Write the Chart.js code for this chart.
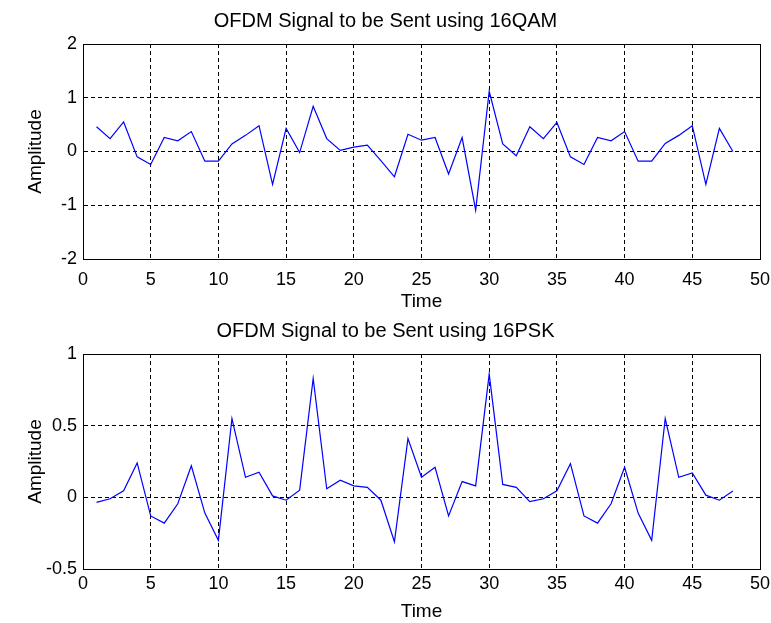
<!DOCTYPE html>
<html>
<head>
<meta charset="utf-8">
<title>OFDM Signal</title>
<script src="https://cdn.jsdelivr.net/npm/chart.js@4.4.1/dist/chart.umd.min.js"></script>
<style>
  body { margin: 0; background: #fff; }
  .plot { position: absolute; left: 0; width: 771px; height: 311px; }
</style>
</head>
<body>
<div class="plot" style="top:0"><canvas id="qamChart" width="771" height="311"></canvas></div>
<div class="plot" style="top:310px"><canvas id="pskChart" width="771" height="311"></canvas></div>
<script>
// sample index (time) for both signals
const timeIdx = [1, 2, 3, 4, 5, 6, 7, 8, 9, 10, 11, 12, 13, 14, 15, 16,
    17, 18, 19, 20, 21, 22, 23, 24, 25, 26, 27, 28, 29, 30, 31, 32,
    33, 34, 35, 36, 37, 38, 39, 40, 41, 42, 43, 44, 45, 46, 47, 48];

// real part of the OFDM symbol with cyclic prefix, 16QAM
const qamAmp = [0.46, 0.24, 0.55, -0.10, -0.24, 0.26, 0.20, 0.37, -0.18, -0.18, 0.14, 0.30, 0.48, -0.61, 0.43, -0.02,
    0.84, 0.24, 0.02, 0.08, 0.12, -0.17, -0.47, 0.32, 0.21, 0.26, -0.42, 0.26, -1.09, 1.12, 0.14, -0.08,
    0.46, 0.24, 0.54, -0.10, -0.24, 0.26, 0.20, 0.37, -0.18, -0.18, 0.15, 0.30, 0.48, -0.61, 0.43, 0.00];

// same thing for 16PSK
const pskAmp = [-0.035, -0.01, 0.045, 0.24, -0.13, -0.18, -0.045, 0.22, -0.11, -0.30, 0.55, 0.14, 0.175, 0.01, -0.02, 0.05,
    0.83, 0.06, 0.12, 0.08, 0.07, -0.02, -0.31, 0.41, 0.14, 0.21, -0.13, 0.11, 0.08, 0.86, 0.09, 0.07,
    -0.03, -0.01, 0.045, 0.235, -0.13, -0.18, -0.045, 0.21, -0.11, -0.30, 0.55, 0.14, 0.17, 0.015, -0.02, 0.045];

const timeTicks = [0, 5, 10, 15, 20, 25, 30, 35, 40, 45, 50];
const qamTicks = [-2, -1, 0, 1, 2];
const pskTicks = [-0.5, 0, 0.5, 1];

const FONT = "'Liberation Sans', Arial, sans-serif";

// matlab style closed box around the axes
const boxPlugin = {
    id: 'axesBox',
    afterDraw(chart) {
        const { ctx, chartArea: a } = chart;
        ctx.save();
        ctx.strokeStyle = '#000';
        ctx.lineWidth = 1;
        ctx.strokeRect(Math.round(a.left) + 0.5, Math.round(a.top) + 0.5,
            Math.round(a.right - a.left), Math.round(a.bottom - a.top));
        ctx.restore();
    }
};

function makePlot(canvasId, title, values, yTicks, xPad) {
    const ctx = document.getElementById(canvasId).getContext('2d');
    return new Chart(ctx, {
        type: 'line',
        data: {
            datasets: [{
                data: timeIdx.map((t, i) => ({ x: t, y: values[i] })),
                borderColor: '#0000ff',
                borderWidth: 1.2,
                pointRadius: 0,
                tension: 0,
                fill: false
            }]
        },
        options: {
            responsive: false,
            animation: false,
            layout: { padding: { left: 0, right: 0, top: 0, bottom: 0 } },
            plugins: {
                legend: { display: false },
                tooltip: { enabled: false },
                title: {
                    display: true,
                    text: title,
                    color: '#000',
                    font: { family: FONT, size: 20, weight: 'normal' },
                    padding: { top: 9, bottom: 11 }
                }
            },
            scales: {
                x: {
                    type: 'linear',
                    min: timeTicks[0],
                    max: timeTicks[timeTicks.length - 1],
                    afterBuildTicks: s => { s.ticks = timeTicks.map(v => ({ value: v })); },
                    // fixed axis band so both plots line up
                    afterFit: s => { s.height = 52; s.paddingLeft = 0; s.paddingRight = 11; },
                    grid: { color: '#000', lineWidth: 1, drawTicks: false },
                    border: { display: true, color: '#000', dash: [4, 3] },
                    ticks: { color: '#000', font: { family: FONT, size: 18 }, padding: xPad, maxRotation: 0 },
                    title: {
                        display: true, text: 'Time', color: '#000',
                        font: { family: FONT, size: 19, lineHeight: 1 },
                        padding: { top: 0, bottom: 0 }
                    }
                },
                y: {
                    min: yTicks[0],
                    max: yTicks[yTicks.length - 1],
                    afterBuildTicks: s => { s.ticks = yTicks.map(v => ({ value: v })); },
                    afterFit: s => { s.width = 83; },
                    grid: { color: '#000', lineWidth: 1, drawTicks: false },
                    border: { display: true, color: '#000', dash: [4, 3] },
                    ticks: {
                        color: '#000', font: { family: FONT, size: 18 }, padding: 6,
                        callback: v => String(v)
                    },
                    title: {
                        display: true, text: 'Amplitude', color: '#000',
                        font: { family: FONT, size: 19, lineHeight: 1.2 },
                        padding: { top: 24, bottom: 0 }
                    }
                }
            }
        },
        plugins: [boxPlugin]
    });
}

makePlot('qamChart', 'OFDM Signal to be Sent using 16QAM', qamAmp, qamTicks, 10);
makePlot('pskChart', 'OFDM Signal to be Sent using 16PSK', pskAmp, pskTicks, 4);
</script>
</body>
</html>
